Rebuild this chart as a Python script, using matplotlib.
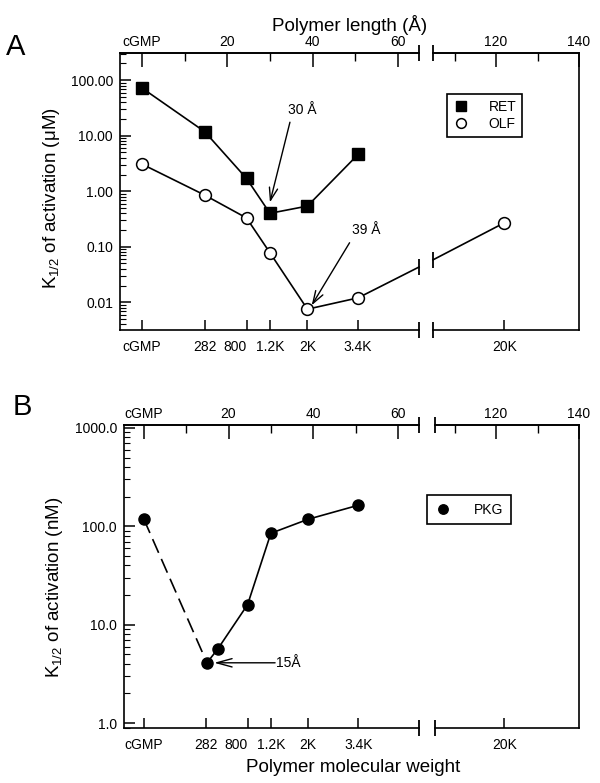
import numpy as np
import matplotlib.pyplot as plt
from matplotlib.ticker import FixedLocator, NullFormatter

plt.rcParams['font.family'] = ['Liberation Sans', 'DejaVu Sans']
plt.rcParams['mathtext.fontset'] = 'custom'
plt.rcParams['mathtext.rm'] = 'Liberation Sans'

# bottom axis: polymer molecular weight, placed on the polymer length scale (Å)
mw_labels = ['cGMP', '282', '800', '1.2K', '2K', '3.4K', '20K']
mw_length = [0, 14.7, 24.5, 30, 38.8, 50.7, 122]

# top axis: polymer length (Å)
len_major = [0, 20, 40, 60, 120, 140]
len_labels = ['cGMP', '20', '40', '60', '120', '140']
len_minor = [10, 30, 50, 110, 130]

# panel A, K1/2 in uM
ret_x = [0, 14.7, 24.5, 30, 38.8, 50.7]
ret_k = [72, 11.8, 1.7, 0.40, 0.54, 4.6]
olf_x = [0, 14.7, 24.5, 30, 38.8, 50.7, 122]
olf_k = [3.07, 0.85, 0.33, 0.078, 0.0075, 0.012, 0.27]

# panel B, K1/2 in nM
pkg_x = [0, 14.9, 17.5, 24.5, 30, 38.8, 50.7]
pkg_k = [118, 4.1, 5.7, 16, 85, 118, 164]

yticks_a = [100, 10, 1, 0.1, 0.01]
ylabels_a = ['100.00', '10.00', '1.00', '0.10', '0.01']
yticks_b = [1000, 100, 10, 1]
ylabels_b = ['1000.0', '100.0', '10.0', '1.0']

W, H = 600, 783
fig = plt.figure(figsize=(6, 7.83), dpi=100)


def px_rect(x0, x1, y0, y1):
    return [x0 / W, 1 - y1 / H, (x1 - x0) / W, (y1 - y0) / H]


def make_pair(left, brk0, brk1, right, top, bottom, xl_left, xl_right, ylim, yt, ytl):
    axl = fig.add_axes(px_rect(left, brk0, top, bottom))
    axr = fig.add_axes(px_rect(brk1, right, top, bottom))
    for ax, xl in ((axl, xl_left), (axr, xl_right)):
        ax.set_yscale('log')
        ax.set_ylim(*ylim)
        ax.set_xlim(*xl)
        ins = [(p, l) for p, l in zip(mw_length, mw_labels) if xl[0] <= p <= xl[1]]
        ax.set_xticks([p for p, l in ins], [l for p, l in ins])
        ax.xaxis.set_minor_locator(FixedLocator([]))
        ax.tick_params(axis='x', direction='in', length=7, width=1.1, labelsize=10, pad=7)
        for lab in ax.get_xticklabels():
            if lab.get_text() == '800':
                lab.set_horizontalalignment('right')
        for s in ax.spines.values():
            s.set_linewidth(1.2)
        sec = ax.secondary_xaxis('top')
        mj = [(p, l) for p, l in zip(len_major, len_labels) if xl[0] <= p <= xl[1]]
        sec.set_xticks([p for p, l in mj], [l for p, l in mj])
        sec.xaxis.set_minor_locator(FixedLocator([p for p in len_minor if xl[0] <= p <= xl[1]]))
        sec.xaxis.set_minor_formatter(NullFormatter())
        sec.tick_params(which='major', direction='in', length=10, width=1.1, labelsize=10, pad=3)
        sec.tick_params(which='minor', direction='in', length=6, width=1)
        sec.spines['top'].set_linewidth(1.2)
    axl.spines['right'].set_visible(False)
    axr.spines['left'].set_visible(False)
    axl.set_yticks(yt, ytl)
    axl.tick_params(axis='y', which='major', direction='in', length=8, width=1.1, labelsize=10, pad=5)
    axl.tick_params(axis='y', which='minor', direction='in', length=4, width=0.8)
    axl.yaxis.set_minor_formatter(NullFormatter())
    axr.tick_params(axis='y', which='both', left=False, right=False, labelleft=False)
    # break marks on the top and bottom spines
    for ax, xb in ((axl, 1), (axr, 0)):
        ax.plot([xb, xb], [0, 1], transform=ax.transAxes, linestyle='none',
                marker='|', markersize=11, markeredgewidth=1.3, color='black', clip_on=False)
    return axl, axr


# ---------- panel A ----------
xa_l = (-5.2, 65)
xa_r = (104.8, 140)
axA, axA2 = make_pair(120, 419, 433, 579, 53, 330, xa_l, xa_r, (10 ** -2.5, 10 ** 2.49),
                      yticks_a, ylabels_a)

axA.plot(ret_x, ret_k, color='black', lw=1.2, zorder=2)
axA.plot(ret_x, ret_k, linestyle='none', marker='s', ms=8, color='black', zorder=3)
axA.plot(olf_x[:-1], olf_k[:-1], color='black', lw=1.2, zorder=2)
axA.plot(olf_x[:-1], olf_k[:-1], linestyle='none', marker='o', ms=8.5,
         mfc='white', mec='black', mew=1.1, zorder=3)

# OLF line continues across the axis break (straight on the page)
gap = 14 / 4.2
u0, u1 = olf_x[-2], olf_x[-1] - (xa_r[0] - xa_l[1]) + gap
ub_l, ub_r = xa_l[1], xa_l[1] + gap
l0, l1 = np.log10(olf_k[-2]), np.log10(olf_k[-1])
yb_l = 10 ** (l0 + (l1 - l0) * (ub_l - u0) / (u1 - u0))
yb_r = 10 ** (l0 + (l1 - l0) * (ub_r - u0) / (u1 - u0))
axA.plot([olf_x[-2], xa_l[1]], [olf_k[-2], yb_l], color='black', lw=1.2, clip_on=False)
axA.plot([xa_l[1]], [yb_l], marker='|', ms=11, mew=1.3, color='black', clip_on=False)
axA2.plot([xa_r[0], olf_x[-1]], [yb_r, olf_k[-1]], color='black', lw=1.2, clip_on=False)
axA2.plot([xa_r[0]], [yb_r], marker='|', ms=11, mew=1.3, color='black', clip_on=False)
axA2.plot(olf_x[-1:], olf_k[-1:], linestyle='none', marker='o', ms=8.5,
          mfc='white', mec='black', mew=1.1, zorder=3)

arr = dict(arrowstyle='->,head_length=0.9,head_width=0.3', lw=1, color='black',
           shrinkA=0, shrinkB=0)
axA.annotate('', xy=(30, 0.63), xytext=(34.7, 17.5), arrowprops=arr)
axA.text(37.5, 29, '30 Å', fontsize=10, ha='center', va='center')
axA.annotate('', xy=(39.8, 0.0088), xytext=(48.7, 0.118), arrowprops=arr)
axA.text(52.5, 0.2, '39 Å', fontsize=10, ha='center', va='center')

hA1, = axA.plot([], [], linestyle='none', marker='s', ms=7, color='black', label='RET')
hA2, = axA.plot([], [], linestyle='none', marker='o', ms=7, mfc='white', mec='black', mew=1.1, label='OLF')
legA = fig.legend(handles=[hA1, hA2], loc='upper left', bbox_to_anchor=(447 / W, 1 - 94 / H),
                  fontsize=10, frameon=True, fancybox=False, framealpha=1, edgecolor='black',
                  handlelength=1.2, handletextpad=1.4, borderpad=0.4, labelspacing=0.25,
                  borderaxespad=0)
legA.get_frame().set_linewidth(1.2)

# ---------- panel B ----------
xb_l = (-4.7, 65)
xb_r = (105.3, 140)
axB, axB2 = make_pair(124, 419, 435, 579, 425, 728, xb_l, xb_r, (10 ** -0.05, 10 ** 3.03),
                      yticks_b, ylabels_b)

axB.plot(pkg_x[:2], pkg_k[:2], color='black', lw=1.2, dashes=(9, 4), zorder=2)
axB.plot(pkg_x[1:], pkg_k[1:], color='black', lw=1.2, zorder=2)
hB, = axB.plot(pkg_x, pkg_k, linestyle='none', marker='o', ms=8, color='black', zorder=3, label='PKG')
axB.annotate('', xy=(16.6, pkg_k[1]), xytext=(31, pkg_k[1]),
             arrowprops=dict(arrowstyle='->,head_length=1.1,head_width=0.3', lw=1,
                             color='black', shrinkA=0, shrinkB=0))
axB.text(31.3, pkg_k[1], '15Å', fontsize=10, ha='left', va='center')

legB = fig.legend(handles=[hB], loc='upper left',
                  bbox_to_anchor=(427 / W, 1 - 495 / H), fontsize=10, frameon=True,
                  fancybox=False, framealpha=1, edgecolor='black', handlelength=1.2,
                  handletextpad=1.6, borderpad=0.55, borderaxespad=0, markerscale=0.85)
legB.get_frame().set_linewidth(1.2)

# ---------- labels ----------
fig.text(16 / W, 1 - 47 / H, 'A', fontsize=21, ha='center', va='center')
fig.text(22 / W, 1 - 407 / H, 'B', fontsize=21, ha='center', va='center')
fig.text(350 / W, 1 - 25 / H, 'Polymer length (Å)', fontsize=13.5, ha='center', va='center')
fig.text(353 / W, 1 - 768 / H, 'Polymer molecular weight', fontsize=13.5, ha='center', va='center')
fig.text(52 / W, 1 - 198 / H, r'K$_{\mathregular{1/2}}$ of activation (μM)', fontsize=13.5,
         rotation=90, ha='center', va='center')
fig.text(55 / W, 1 - 587 / H, r'K$_{\mathregular{1/2}}$ of activation (nM)', fontsize=13.5,
         rotation=90, ha='center', va='center')

fig.savefig('out.png', dpi=100)
